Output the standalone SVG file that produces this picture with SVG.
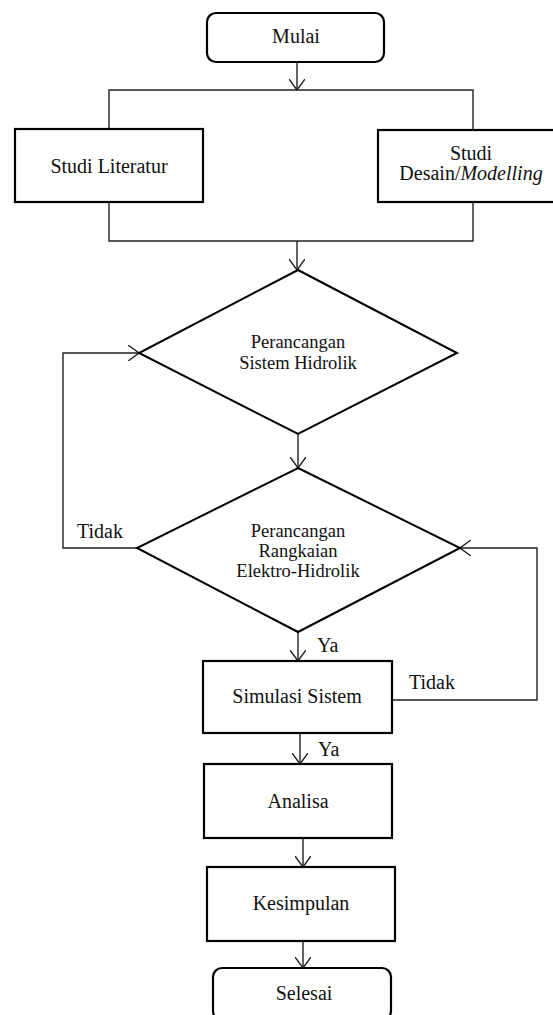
<svg xmlns="http://www.w3.org/2000/svg" width="553" height="1015" viewBox="0 0 553 1015">
<defs>
<style>
.box{fill:#fff;stroke:#000;stroke-width:2.2}
.dia{fill:#fff;stroke:#000;stroke-width:2}
.con{fill:none;stroke:#222;stroke-width:1.4}
.t{font-family:"Liberation Serif","Times New Roman",serif;font-size:20px;fill:#111;text-anchor:middle}
.d{font-family:"Liberation Serif","Times New Roman",serif;font-size:18.5px;fill:#111;text-anchor:middle}
.l{font-family:"Liberation Serif","Times New Roman",serif;font-size:20px;fill:#111}
</style>
<marker id="arr" viewBox="0 0 12 16" refX="11" refY="8" markerWidth="12" markerHeight="16" markerUnits="userSpaceOnUse" orient="auto">
<polyline points="0,0 11,8 0,16" fill="none" stroke="#222" stroke-width="1.4"/>
</marker>
</defs>
<rect width="553" height="1015" fill="#fff"/>
<g id="connectors">
<line class="con" x1="297" y1="62" x2="297" y2="90" marker-end="url(#arr)"/>
<polyline class="con" points="109,129 109,90 473,90 473,130"/>
<polyline class="con" points="109,202 109,241 473,241 473,202"/>
<line class="con" x1="297" y1="241" x2="297" y2="270" marker-end="url(#arr)"/>
<line class="con" x1="298" y1="434" x2="298" y2="468" marker-end="url(#arr)"/>
<polyline class="con" points="137,548 63,548 63,353 139,353" marker-end="url(#arr)"/>
<line class="con" x1="298" y1="632" x2="298" y2="661" marker-end="url(#arr)"/>
<polyline class="con" points="392,700 537,700 537,548 460,548" marker-end="url(#arr)"/>
<line class="con" x1="300" y1="733" x2="300" y2="764" marker-end="url(#arr)"/>
<line class="con" x1="303" y1="838" x2="303" y2="867" marker-end="url(#arr)"/>
<line class="con" x1="303" y1="941" x2="303" y2="968" marker-end="url(#arr)"/>
</g>
<g id="mulai">
<rect class="box" x="207" y="13" width="177" height="49" rx="9"/>
<text class="t" x="296" y="43">Mulai</text>
</g>
<g id="studi-literatur">
<rect class="box" x="15" y="129" width="188" height="73"/>
<text class="t" x="109" y="173">Studi Literatur</text>
</g>
<g id="studi-desain">
<rect class="box" x="378" y="130" width="180" height="72"/>
<text class="t" x="471" y="160">Studi</text>
<text class="t" x="471" y="180">Desain/<tspan font-style="italic">Modelling</tspan></text>
</g>
<g id="perancangan-hidrolik">
<polygon class="dia" points="298,270 457,353 298,434 139,353"/>
<text class="d" x="298" y="348">Perancangan</text>
<text class="d" x="298" y="369">Sistem Hidrolik</text>
</g>
<g id="perancangan-rangkaian">
<polygon class="dia" points="298,468 460,548 298,632 137,548"/>
<text class="d" x="298" y="537">Perancangan</text>
<text class="d" x="298" y="557">Rangkaian</text>
<text class="d" x="298" y="577">Elektro-Hidrolik</text>
</g>
<g id="simulasi">
<rect class="box" x="203" y="661" width="189" height="72"/>
<text class="t" x="297" y="703">Simulasi Sistem</text>
</g>
<g id="analisa">
<rect class="box" x="204" y="764" width="188" height="74"/>
<text class="t" x="298" y="808">Analisa</text>
</g>
<g id="kesimpulan">
<rect class="box" x="207" y="867" width="188" height="74"/>
<text class="t" x="301" y="910">Kesimpulan</text>
</g>
<g id="selesai">
<rect class="box" x="213" y="968" width="178" height="52" rx="9"/>
<text class="t" x="304" y="1000">Selesai</text>
</g>
<g id="labels">
<text class="l" x="77" y="538">Tidak</text>
<text class="l" x="317" y="652">Ya</text>
<text class="l" x="409" y="689">Tidak</text>
<text class="l" x="318" y="756">Ya</text>
</g>
</svg>
